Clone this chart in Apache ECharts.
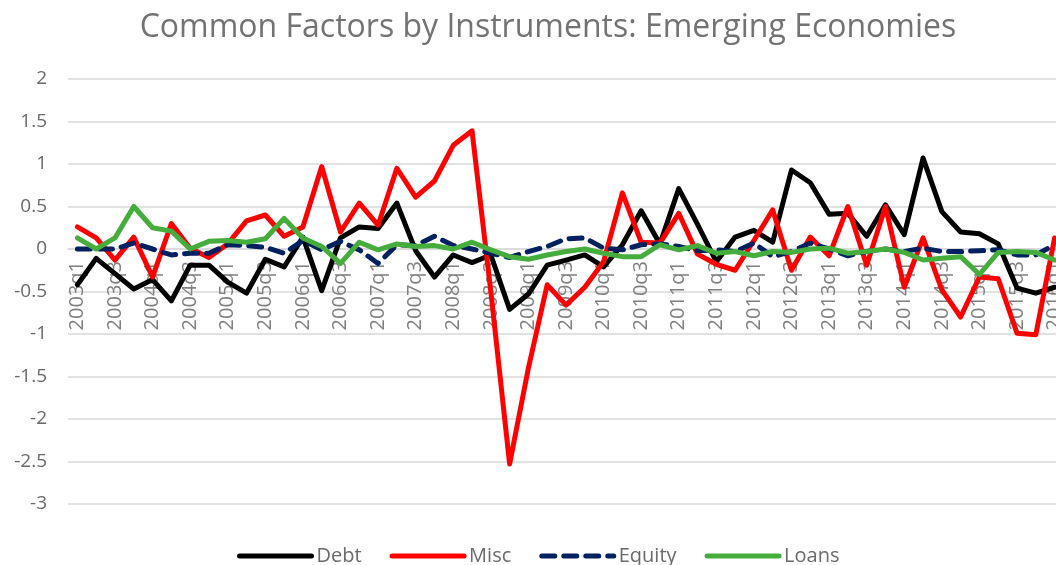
<!DOCTYPE html>
<html>
<head>
<meta charset="utf-8">
<script src="https://cdn.jsdelivr.net/npm/echarts@6/dist/echarts.min.js"></script>
<style>
html,body{margin:0;padding:0;background:#fff;}
#chart{width:1056px;height:565px;}
</style>
</head>
<body>
<div id="chart"></div>
<script>
const categories = ["2003q1","2003q2","2003q3","2003q4","2004q1","2004q2","2004q3","2004q4",
"2005q1","2005q2","2005q3","2005q4","2006q1","2006q2","2006q3","2006q4",
"2007q1","2007q2","2007q3","2007q4","2008q1","2008q2","2008q3","2008q4",
"2009q1","2009q2","2009q3","2009q4","2010q1","2010q2","2010q3","2010q4",
"2011q1","2011q2","2011q3","2011q4","2012q1","2012q2","2012q3","2012q4",
"2013q1","2013q2","2013q3","2013q4","2014q1","2014q2","2014q3","2014q4",
"2015q1","2015q2","2015q3","2015q4","2016q1"];

const debt = [-0.42,-0.11,-0.29,-0.47,-0.36,-0.61,-0.19,-0.19,-0.39,-0.52,-0.12,-0.21,0.14,
-0.49,0.13,0.26,0.24,0.54,-0.02,-0.33,-0.07,-0.16,-0.07,
-0.71,-0.53,-0.19,-0.13,-0.07,-0.21,0.05,0.45,0.06,0.71,
0.29,-0.15,0.14,0.22,0.08,0.93,0.78,0.41,0.42,0.15,
0.52,0.17,1.07,0.44,0.2,0.18,0.06,-0.46,-0.52,-0.45];

const misc = [0.26,0.13,-0.13,0.14,-0.33,0.3,0.01,-0.1,0.06,0.33,0.4,0.15,0.26,
0.97,0.2,0.54,0.28,0.95,0.61,0.8,1.22,1.39,-0.5,
-2.53,-1.4,-0.42,-0.66,-0.45,-0.15,0.66,0.08,0.07,0.42,
-0.06,-0.18,-0.25,0.1,0.46,-0.25,0.14,-0.08,0.5,-0.19,
0.5,-0.45,0.13,-0.48,-0.8,-0.33,-0.35,-0.99,-1.01,0.13];

const equity = [0,0,0,0.07,0,-0.07,-0.05,-0.05,0.05,0.04,0.02,-0.05,0.1,
-0.01,0.09,-0.01,-0.17,0.05,0.04,0.15,0.04,0,-0.05,
-0.1,-0.03,0.03,0.12,0.13,0.01,-0.01,0.05,0.06,0.03,
-0.02,-0.01,-0.03,0.07,-0.09,-0.03,0.07,0,-0.08,-0.03,
0,-0.03,0.01,-0.03,-0.03,-0.02,-0.01,-0.07,-0.07,0.05];

const loans = [0.13,0,0.13,0.5,0.25,0.21,0,0.09,0.1,0.08,0.12,0.36,0.13,
0.03,-0.17,0.08,-0.01,0.06,0.03,0.04,0,0.08,-0.01,
-0.09,-0.12,-0.07,-0.03,0,-0.05,-0.09,-0.09,0.05,-0.01,
0.04,-0.05,-0.03,-0.08,-0.03,-0.04,0,0.01,-0.05,-0.03,
0,-0.04,-0.13,-0.11,-0.09,-0.3,-0.04,-0.03,-0.04,-0.13];

const FONT = '"Open Sans", "Noto Sans", sans-serif';
const W = 5;
const GRID_TOP = 79, GRID_BOTTOM = 61, CHART_H = 565;
const Y_MIN = -3, Y_MAX = 2;
// shift the category axis up so it sits on the zero line (as in the reference)
const plotH = CHART_H - GRID_TOP - GRID_BOTTOM;
const zeroOffset = -plotH * (0 - Y_MIN) / (Y_MAX - Y_MIN);

function lineSeries(name, data, color, dashed) {
  return {
    name: name, type: 'line', data: data, symbol: 'none', smooth: false,
    animation: false,
    lineStyle: { color: color, width: W, type: dashed ? [13, 9] : 'solid', cap: 'round', join: 'round' },
    itemStyle: { color: color }
  };
}

const chart = echarts.init(document.getElementById('chart'), null, { renderer: 'canvas' });
chart.setOption({
  backgroundColor: '#ffffff',
  animation: false,
  title: {
    text: 'Common Factors by Instruments: Emerging Economies',
    left: 543, top: 7, textAlign: 'center',
    textStyle: { fontFamily: FONT, fontSize: 32, fontWeight: 'normal', color: '#737373' }
  },
  legend: {
    bottom: -6, left: 232,
    itemWidth: 72, itemHeight: 14, itemGap: 28,
    itemStyle: { opacity: 0 },
    lineStyle: { width: 5, cap: 'round' },
    textStyle: { fontFamily: FONT, fontSize: 20, color: '#6a6a6a' },
    data: ['Debt', 'Misc', 'Equity', 'Loans']
  },
  grid: { left: 68, right: -8, top: GRID_TOP, bottom: GRID_BOTTOM, containLabel: false, outerBoundsMode: 'none' },
  xAxis: {
    type: 'category', data: categories, boundaryGap: true,
    position: 'bottom', offset: zeroOffset,
    axisLine: { show: true, onZero: false, lineStyle: { color: '#d9d9d9', width: 1.5 } },
    axisTick: { show: false },
    axisLabel: { interval: 1, rotate: 90, margin: 12, fontFamily: FONT, fontSize: 20, color: '#808080' },
    splitLine: { show: false }
  },
  yAxis: {
    type: 'value', min: Y_MIN, max: Y_MAX, interval: 0.5,
    axisLine: { show: false }, axisTick: { show: false },
    axisLabel: { margin: 21, fontFamily: FONT, fontSize: 19, color: '#6a6a6a' },
    splitLine: { lineStyle: { color: '#d9d9d9', width: 1.5 } }
  },
  series: [
    lineSeries('Debt', debt, '#000000', false),
    lineSeries('Misc', misc, '#ff0000', false),
    lineSeries('Equity', equity, '#002060', true),
    lineSeries('Loans', loans, '#45ad3c', false)
  ]
});
</script>
</body>
</html>
